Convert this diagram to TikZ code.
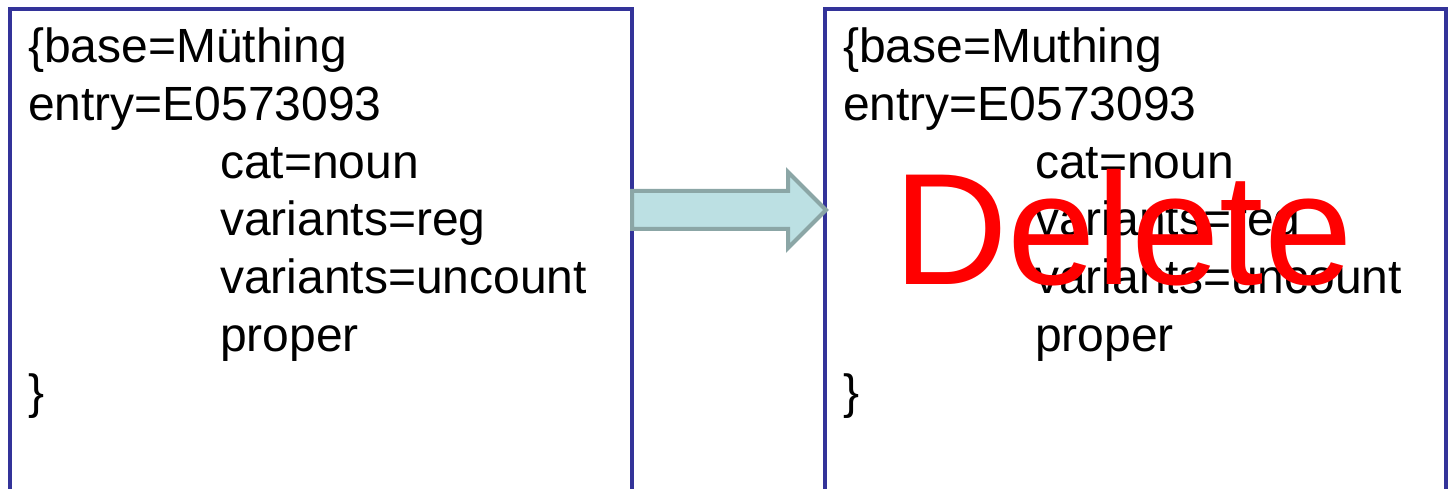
\documentclass[tikz,border=0pt]{standalone}
\usepackage{fontspec}
\setmainfont{Liberation Sans}
\usetikzlibrary{calc}

\definecolor{boxblue}{RGB}{51,51,153}
\definecolor{arrowline}{RGB}{139,166,166}
\definecolor{arrowfill}{RGB}{188,224,227}
\definecolor{delred}{RGB}{255,0,0}

\begin{document}
\begin{tikzpicture}[x=1pt,y=-1pt,
  panel/.style={draw=boxblue, line width=4pt, inner sep=0pt, outer sep=0pt,
    minimum height=540pt, anchor=north west},
  txt/.style={anchor=base west, inner sep=0pt, outer sep=0pt,
    font=\fontsize{48}{57.6}\selectfont},
  blockarrow/.style={draw=arrowline, fill=arrowfill, line width=4pt, line join=miter},
  bigword/.style={anchor=base west, inner sep=0pt, outer sep=0pt, text=delred,
    font=\fontsize{159}{159}\selectfont}]
\useasboundingbox (0,0) rectangle (1449,489);

% the two record panels (they run past the lower edge)
\node[panel, minimum width=622pt] (leftbox) at (10,9) {};
\node[panel, minimum width=621pt] (rightbox) at (825,9) {};

% record before the change
\node[txt] (l1) at (28,63) {\{base=Müthing};
\node[txt] (l2) at (28,120.6) {entry=E0573093};
\node[txt] (l3) at (220,178.2) {cat=noun};
\node[txt] (l4) at (220,235.8) {variants=reg};
\node[txt] (l5) at (220,293.4) {variants=uncount};
\node[txt] (l6) at (220,351) {proper};
\node[txt] (l7) at (28,408.6) {\}};

% record after the change
\node[txt] (r1) at (843,63) {\{base=Muthing};
\node[txt] (r2) at (843,120.6) {entry=E0573093};
\node[txt] (r3) at (1035,178.2) {cat=noun};
\node[txt] (r4) at (1035,235.8) {variants=reg};
\node[txt] (r5) at (1035,293.4) {variants=uncount};
\node[txt] (r6) at (1035,351) {proper};
\node[txt] (r7) at (843,408.6) {\}};

% block arrow from the first panel to the second
\coordinate (tail) at ($(leftbox.north east)+(0,201)$);
\coordinate (tip) at ($(rightbox.north west)+(1,201)$);
\draw[blockarrow]
  ($(tail)+(0,-19)$) -- ($(tip)+(-38,-19)$) -- ($(tip)+(-38,-38)$) -- (tip)
  -- ($(tip)+(-38,38)$) -- ($(tip)+(-38,19)$) -- ($(tail)+(0,19)$) -- cycle;

% overlay word
\node[bigword] (del) at (893,284) {Delete};
\end{tikzpicture}
\end{document}
